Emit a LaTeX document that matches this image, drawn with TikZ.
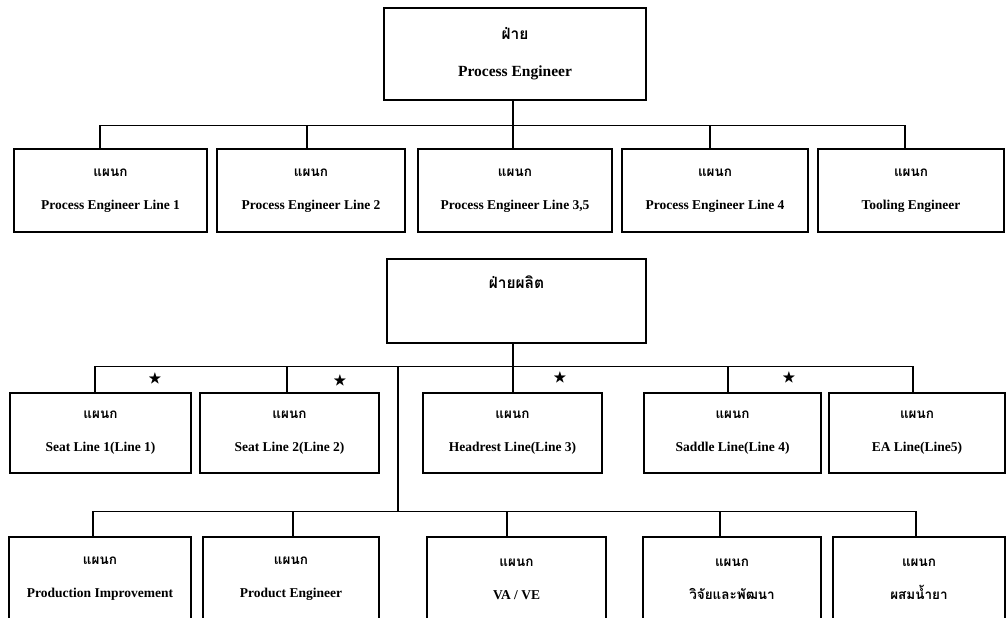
\documentclass[tikz,border=0pt]{standalone}
\usepackage{amsmath}
\usepackage{amssymb}
\usepackage{fontspec}
\setmainfont{Liberation Serif}
\newfontfamily\thaifont[Script=Thai]{Loma}

\begin{document}
\begin{tikzpicture}[x=1pt,y=-1pt,line width=1.1pt,
    head node/.style={draw, minimum width=#1, inner sep=0pt, align=center, font=\bfseries\fontsize{15.5}{37}\selectfont},
    unit node/.style={draw, minimum width=#1, inner sep=0pt, align=center, font=\bfseries\fontsize{13.5}{33}\selectfont},
    star node/.style={inner sep=0pt, font=\fontsize{14}{14}\selectfont},
    ]
  \def\dept{{\thaifont แผนก}}
  \clip (0,0) rectangle (1006,618);

  \node[head node=262, minimum height=92] (top) at (515,54) {{\thaifont ฝ่าย}\\Process Engineer};

  \node[unit node=193, minimum height=83] (p1) at (110.5,190.5) {\dept\\Process Engineer Line 1};
  \node[unit node=188, minimum height=83] (p2) at (311,190.5) {\dept\\Process Engineer Line 2};
  \node[unit node=194, minimum height=83] (p3) at (515,190.5) {\dept\\Process Engineer Line 3,5};
  \node[unit node=186, minimum height=83] (p4) at (715,190.5) {\dept\\Process Engineer Line 4};
  \node[unit node=186, minimum height=83] (p5) at (911,190.5) {\dept\\Tooling Engineer};

  \node[head node=259, minimum height=84] (prod) at (516.5,301) {{\thaifont ฝ่ายผลิต}\\\mbox{}};

  \node[unit node=181, minimum height=80] (s1) at (100.5,433) {\dept\\Seat Line 1(Line 1)};
  \node[unit node=179, minimum height=80] (s2) at (289.5,433) {\dept\\Seat Line 2(Line 2)};
  \node[unit node=179, minimum height=80] (s3) at (512.5,433) {\dept\\Headrest Line(Line 3)};
  \node[unit node=177, minimum height=80] (s4) at (732.5,433) {\dept\\Saddle Line(Line 4)};
  \node[unit node=176, minimum height=80] (s5) at (917,433) {\dept\\EA Line(Line5)};

  \node[unit node=182, minimum height=84] (d1) at (100,579) {\dept\\Production Improvement};
  \node[unit node=176, minimum height=84] (d2) at (291,579) {\dept\\Product Engineer};
  \node[unit node=179, minimum height=84] (d3) at (516.5,579) {\dept\\VA / VE};
  \node[unit node=178, minimum height=84] (d4) at (732,579) {\dept\\{\thaifont วิจัยและพัฒนา}};
  \node[unit node=172, minimum height=84] (d5) at (919,579) {\dept\\{\thaifont ผสมน้ำยา}};

  \node[star node] (st1) at (155,379) {$\bigstar$};
  \node[star node] (st2) at (340,381) {$\bigstar$};
  \node[star node] (st3) at (560,378) {$\bigstar$};
  \node[star node] (st4) at (789,378) {$\bigstar$};

  % Process Engineer
  \draw ([xshift=-2]top.south) -- ++(0,26);
  \draw ([xshift=-10.5]p1.north) -- ++(0,-23) -| ([xshift=-6]p5.north);
  \draw ([xshift=-4]p2.north) -- ++(0,-23);
  \draw ([xshift=-2]p3.north) -- ++(0,-23);
  \draw ([xshift=-5]p4.north) -- ++(0,-23);

  % production lines
  \draw ([xshift=-3.5]prod.south) -- ++(0,24);
  \draw ([xshift=-5.5]s1.north) -- ++(0,-26) -| ([xshift=-4]s5.north);
  \draw ([xshift=-2.5]s2.north) -- ++(0,-26);
  \draw ([xshift=0.5]s3.north) -- ++(0,-26);
  \draw ([xshift=-4.5]s4.north) -- ++(0,-26);

  \coordinate (hub) at (398,367);
  \draw (hub) -- ++(0,145);
  \draw ([xshift=-7]d1.north) -- ++(0,-25) -| ([xshift=-3]d5.north);
  \draw ([xshift=2]d2.north) -- ++(0,-25);
  \draw ([xshift=-9.5]d3.north) -- ++(0,-25);
  \draw ([xshift=-12]d4.north) -- ++(0,-25);
\end{tikzpicture}
\end{document}
